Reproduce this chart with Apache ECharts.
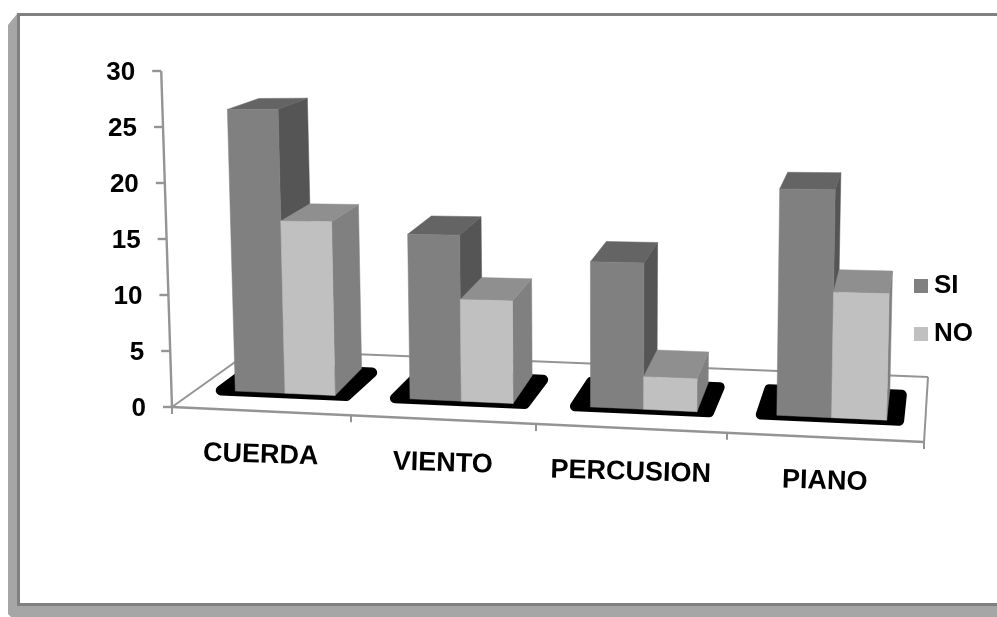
<!DOCTYPE html>
<html><head><meta charset="utf-8">
<style>html,body{margin:0;padding:0;background:#fff}#c{width:997px;height:617px}</style>
<script src="https://cdn.jsdelivr.net/npm/echarts@6/dist/echarts.min.js"></script>
</head><body><div id="c"></div>
<script>
const categories = ['CUERDA','VIENTO','PERCUSION','PIANO'];
const siValues = [25.9, 14.7, 12.6, 19.1];
const noValues = [15.7, 9, 2.8, 10.5];
const valueTicks = [0, 5, 10, 15, 20, 25, 30];

const FONT = '"Liberation Sans", Arial, sans-serif';
const GRID = {left:172, top:71, width:752, height:336};
const LINE = '#949494';

// Perspective of the floor and walls: band units u, pixel height h, depth d (0 front .. 1 back)
function warpX(u){ return 172 + 176*u + 3*u*u; }
function project(u, h, d){
  const xf = warpX(u), f = (xf-172)/752;
  const xb = 252 + 676*f;
  const yf = 407 + 35*f, yb = 350 + 27*f;
  const x = xf + (xb-xf)*d, y = yf + (yb-yf)*d;
  return [x + h*(x-600)*7.5e-5, y - h*(1+0.03*u)*(1-0.115*d)];
}
const bandU = (api, idx) => (api.coord([idx,0])[0]-GRID.left)/api.size([1,0])[0];
const poly = (pts, fill) => ({type:'polygon', shape:{points:pts}, style:{fill:fill, stroke:fill, lineWidth:0.5}});
const seg = (a, b, w) => ({type:'line', shape:{x1:a[0],y1:a[1],x2:b[0],y2:b[1]}, style:{stroke:LINE, lineWidth:w, fill:null}});
const label = (text, p, align, rot, size) => ({type:'text', x:p[0], y:p[1], rotation:rot||0,
  style:{text:text, fontFamily:FONT, fontWeight:'bold', fontSize:size||26, fill:'#000', align:align, verticalAlign:'middle'}});

function barRender(startOffset, colors){
  return function(params, api){
    const idx = api.value(0), val = api.value(1);
    const c = bandU(api, idx) - 0.5;
    const h = api.coord([idx,0])[1]-api.coord([idx,val])[1];
    const u0 = c+startOffset, u1 = u0+0.2875, d0 = 0.31, d1 = 0.77, squeeze = 0.88;
    const back = (u, hh, front) => { const q = project(u,hh,d1); return [front[0]+(q[0]-front[0])*squeeze, q[1]]; };
    const a = project(u0,h,d0), b = project(u1,h,d0), e = back(u1,h,b), g = back(u0,h,a);
    const a0 = project(u0,0,d0), b0 = project(u1,0,d0), e0 = back(u1,0,b0);
    return {type:'group', children:[
      poly([b,e,e0,b0], colors.side),
      poly([a,b,e,g], colors.top),
      poly([a,b,b0,a0], colors.front)
    ]};
  };
}

const option = {
  animation:false,
  backgroundColor:'#fff',
  graphic:[
    {type:'polygon', z:-10, silent:true, shape:{points:[[17,14],[8,25],[8,614],[11,617],[997,617],[997,604],[20,604],[20,14]]}, style:{fill:'#a6a6a6'}},
    {type:'rect', z:-9, silent:true, shape:{x:17,y:13,width:980,height:3}, style:{fill:'#808080'}},
    {type:'rect', z:-9, silent:true, shape:{x:17,y:13,width:3,height:593}, style:{fill:'#808080'}},
    {type:'rect', z:-9, silent:true, shape:{x:17,y:603,width:980,height:3}, style:{fill:'#808080'}}
  ],
  grid:GRID,
  xAxis:{type:'category', data:categories, show:false},
  yAxis:{type:'value', min:0, max:30, interval:5, show:false},
  legend:{orient:'vertical', left:909, top:268, itemWidth:14, itemHeight:14, itemGap:22, icon:'rect',
    data:['SI','NO'], selectedMode:false,
    textStyle:{fontFamily:FONT, fontWeight:'bold', fontSize:26, color:'#000', padding:[2,0,0,1]}},
  series:[
    {type:'custom', name:'floor', silent:true, z:1, data:[[0,0]],
      renderItem:(p,api)=>{
        const fl=project(0,0,0), fr=project(4,0,0), br=project(4,0,1), bl=project(0,0,1);
        return {type:'group', children:[seg(bl,br,2),seg(fr,br,2),seg(fl,bl,2),seg(fl,fr,2.6)]};
      }},
    {type:'custom', name:'xScale', silent:true, z:2, data:categories.map((c,i)=>[i,0]),
      renderItem:(p,api)=>{
        const i=api.value(0), c=bandU(api,i);
        const t=project(c+0.5,0,0);
        const kids=[seg(t,[t[0],t[1]+7],2)];
        if(i===0){const s=project(c-0.5,0,0); kids.push(seg(s,[s[0],s[1]+7],2));}
        const m=project(c,0,0);
        kids.push(label(categories[i],[m[0],m[1]+44],'center',-0.03,27));
        return {type:'group',children:kids};
      }},
    {type:'custom', name:'yScale', silent:true, z:2, data:valueTicks.map(v=>[0,v]),
      renderItem:(p,api)=>{
        const v=api.value(1), u=bandU(api,0)-0.5;
        const h=api.coord([0,0])[1]-api.coord([0,v])[1];
        const t=project(u,h,0), kids=[seg(t,[t[0]-9,t[1]],2.4)];
        if(v<30){const n=api.coord([0,v+5])[1]; kids.push(seg(t,project(u,api.coord([0,0])[1]-n,0),2.4));}
        kids.push(label(String(v),[t[0]-26,t[1]+2],'right'));
        return {type:'group',children:kids};
      }},
    {type:'custom', name:'shadow', silent:true, z:3, data:categories.map((c,i)=>[i,0]),
      renderItem:(p,api)=>{
        const c=bandU(api,api.value(0))-0.5;
        const pts=[project(c+0.14,0,0.31),project(c+0.865,0,0.31),project(c+0.865,0,0.71),project(c+0.14,0,0.71)];
        return {type:'polygon', shape:{points:pts}, style:{fill:'#000',stroke:'#000',lineWidth:10,lineJoin:'round'}};
      }},
    {type:'custom', name:'SI', silent:true, z:4, itemStyle:{color:'#808080'},
      data:siValues.map((v,i)=>[i,v]), encode:{x:0,y:1},
      renderItem:barRender(0.225,{front:'#808080',side:'#555555',top:'#646464'})},
    {type:'custom', name:'NO', silent:true, z:5, itemStyle:{color:'#c0c0c0'},
      data:noValues.map((v,i)=>[i,v]), encode:{x:0,y:1},
      renderItem:barRender(0.5125,{front:'#c0c0c0',side:'#808080',top:'#8f8f8f'})}
  ]
};
echarts.init(document.getElementById('c'),null,{renderer:'canvas'}).setOption(option);
</script></body></html>
